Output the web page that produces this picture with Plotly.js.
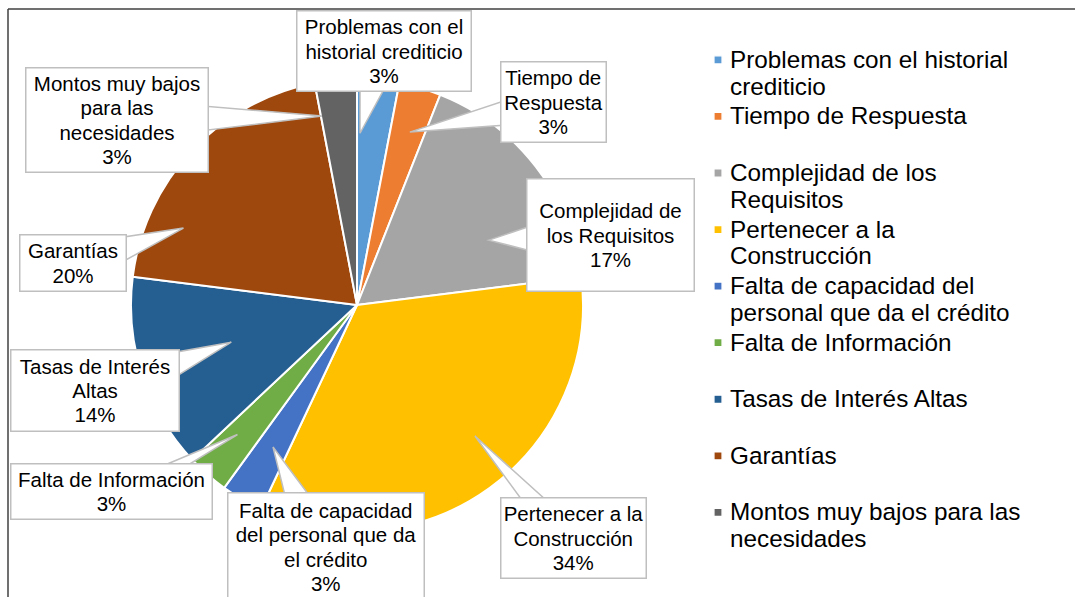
<!DOCTYPE html>
<html><head><meta charset="utf-8">
<script src="https://cdn.plot.ly/plotly-3.0.1.min.js"></script>
<style>html,body{margin:0;padding:0;background:#fff}</style>
</head><body><div id="chart" style="width:1075px;height:597px"></div>
<script>
// ---- data ----
const categories = ["Problemas con el historial crediticio","Tiempo de Respuesta","Complejidad de los Requisitos","Pertenecer a la Construcción","Falta de capacidad del personal que da el crédito","Falta de Información","Tasas de Interés Altas","Garantías","Montos muy bajos para las necesidades"];
const percentages = [3,3,17,34,3,3,14,20,3];
const colors = ["#5B9BD5","#ED7D31","#A5A5A5","#FFC000","#4472C4","#70AD47","#255E91","#9E480E","#636363"];
const legendLines = [["Problemas con el historial","crediticio"],["Tiempo de Respuesta"],["Complejidad de los","Requisitos"],["Pertenecer a la","Construcción"],["Falta de capacidad del","personal que da el crédito"],["Falta de Información"],["Tasas de Interés Altas"],["Garantías"],["Montos muy bajos para las","necesidades"]];
const labelLines = [["Problemas con el","historial crediticio"],["Tiempo de","Respuesta"],["Complejidad de","los Requisitos"],["Pertenecer a la","Construcción"],["Falta de capacidad","del personal que da","el crédito"],["Falta de Información"],["Tasas de Interés","Altas"],["Garantías"],["Montos muy bajos","para las","necesidades"]];

// ---- layout (pixels) ----
const W = 1075, H = 597, CX = 357, CY = 305, R = 226;
const FONT = '"Liberation Sans", Arial, sans-serif';
// label box: center x, center y, width, height
const boxes = [[384,51,176,82],[553.5,102,107,82],[610.5,235,169,114],[573.5,538,147,82],[326,547,198,110],[111.5,491.5,203,57],[95,390.5,170,83],[73,263,108,58],[117,120,184,106]];
// leader tip: angle offset from slice middle (deg), radius fraction
const tips = [[-4.4,0.76],[0.8,0.80],[11.6,0.65],[-6,0.78],[0,0.73],[1.3,0.78],[1.5,0.58],[-19.3,0.84],[-5.1,0.85]];

const px = x => x / W, py = y => 1 - y / H;
const total = percentages.reduce((a,b)=>a+b,0);

const annotations = [], shapes = [];
let cum = 0;
percentages.forEach((v,i) => {
  const mid = (cum + v/2) / total * 360; cum += v;
  const ang = (mid + tips[i][0]) * Math.PI/180, r = tips[i][1]*R;
  const tx = CX + r*Math.sin(ang), ty = CY - r*Math.cos(ang);
  const [bx,by,bw,bh] = boxes[i];
  // wedge from tip to the box edge
  const dx = tx-bx, dy = ty-by;
  const sx = dx!==0 ? (bw/2)/Math.abs(dx) : Infinity;
  const sy = dy!==0 ? (bh/2)/Math.abs(dy) : Infinity;
  let hw = 12, p1, p2;
  if (sx < sy) {
    const ex = bx + Math.sign(dx)*(bw/2 - 3);
    const ey = by + dy*sx;
    hw = Math.min(hw, bh/2 - 3);
    const c = Math.max(by-bh/2+3+hw, Math.min(by+bh/2-3-hw, ey));
    p1 = [ex, c-hw]; p2 = [ex, c+hw];
  } else {
    const ey = by + Math.sign(dy)*(bh/2 - 3);
    const ex = bx + dx*sy;
    hw = Math.min(hw, bw/2 - 3);
    const c = Math.max(bx-bw/2+3+hw, Math.min(bx+bw/2-3-hw, ex));
    p1 = [c-hw, ey]; p2 = [c+hw, ey];
  }
  shapes.push({type:'path', xref:'paper', yref:'paper',
    path:`M${px(tx)},${py(ty)} L${px(p1[0])},${py(p1[1])} L${px(p2[0])},${py(p2[1])} Z`,
    fillcolor:'#FFFFFF', line:{color:'#BFBFBF', width:1.5}, layer:'above'});
  const txt = labelLines[i].concat([Math.round(v/total*100)+'%'])
    .map(l => `<span style="font-size:20.5px">${l}</span>`).join('<br>');
  annotations.push({xref:'paper', yref:'paper', x:px(bx), y:py(by), xanchor:'center', yanchor:'middle',
    showarrow:false, text:txt, width:bw-3, height:bh-3, borderpad:0, borderwidth:1.5,
    bordercolor:'#BFBFBF', bgcolor:'#FFFFFF', align:'center', valign:'middle',
    font:{family:FONT, size:18.8, color:'#000000'}});
});

// chart frame (top and left edges visible)
shapes.push({type:'line', xref:'paper', yref:'paper', x0:px(8), x1:1, y0:py(9), y1:py(9), line:{color:'#404040', width:1.5}, layer:'below'});
shapes.push({type:'line', xref:'paper', yref:'paper', x0:px(8), x1:px(8), y0:0, y1:py(9), line:{color:'#404040', width:1.5}, layer:'below'});

const legendLabels = legendLines.map(ls => {
  const t = ls.map(l => `<span style="font-size:24.3px">${l}</span>`);
  if (t.length === 1) t.push(' ');
  return t.join('<br>');
});

const trace = {
  type:'pie', labels:legendLabels, values:percentages, sort:false, direction:'clockwise', rotation:0,
  marker:{colors:colors, line:{color:'#FFFFFF', width:2}},
  textinfo:'none', hoverinfo:'skip',
  domain:{x:[px(CX-R), px(CX+R)], y:[py(CY+R), py(CY-R)]}
};

const layout = {
  width:W, height:H, margin:{l:0,r:0,t:0,b:0},
  paper_bgcolor:'#FFFFFF', plot_bgcolor:'#FFFFFF',
  showlegend:true,
  legend:{x:px(690), y:py(40), xanchor:'left', yanchor:'top', valign:'top',
    font:{family:FONT, size:20.6, color:'#000000'}, bgcolor:'rgba(0,0,0,0)'},
  annotations:annotations, shapes:shapes
};

Plotly.newPlot('chart', [trace], layout, {staticPlot:true, displayModeBar:false}).then(gd => {
  // smaller legend swatches, as in the reference
  gd.querySelectorAll('.legend .legendpoints path').forEach(p => {
    p.setAttribute('transform', 'translate(28,0) scale(0.68)');
  });
});
</script>
</body></html>
